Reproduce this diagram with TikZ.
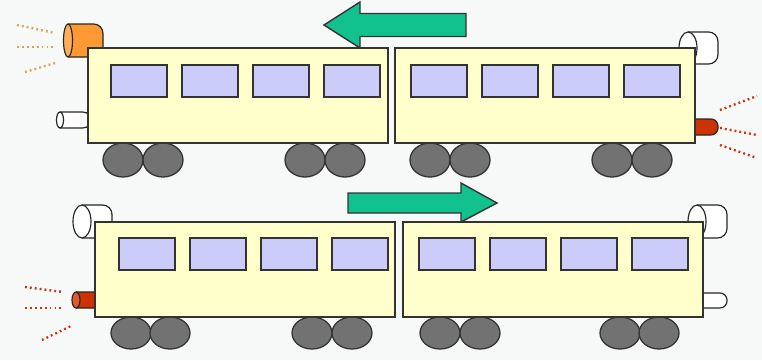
\documentclass[tikz,border=0pt]{standalone}
\usepackage{tikz}
\definecolor{bgx}{HTML}{F7F9F8}
\definecolor{cry}{HTML}{FFFFCC}
\definecolor{lvx}{HTML}{CCCCFA}
\definecolor{olx}{HTML}{333333}
\definecolor{whx}{HTML}{727272}
\definecolor{orx}{HTML}{FF9933}
\definecolor{orz}{HTML}{FFAE5C}
\definecolor{rdx}{HTML}{CC3300}
\definecolor{rdz}{HTML}{E2582E}
\definecolor{gdx}{HTML}{DBA551}
\definecolor{gnx}{HTML}{12C28E}
\tikzset{
    coach/.style={olx,fill=cry,line width=1.4pt},
    pane/.style={olx,fill=lvx,line width=1.2pt},
    wheel/.style={black!80,fill=whx,line width=1.1pt},
    drum/.style={black!85,line width=1pt,rounded corners=8pt},
    rim/.style={black!85,line width=1pt},
    beam/.style={line width=2pt,dash pattern=on 1.6pt off 2.6pt},
    arr/.style={olx,fill=gnx,line width=1.2pt,line join=miter}
}

\begin{document}
\begin{tikzpicture}[x=0.03cm,y=-0.03cm]
    \fill[bgx] (0,0) rectangle (762,360);
    \useasboundingbox (0,0) rectangle (762,360);

    % direction arrows
    \draw[arr] (324,25) -- (360,2) -- (360,13.5) -- (466,13.5)
        -- (466,36.5) -- (360,36.5) -- (360,48) -- cycle;
    \draw[arr] (497,203) -- (461,183) -- (461,193) -- (348,193)
        -- (348,213) -- (461,213) -- (461,222) -- cycle;

    % upper train: lamp, chimney, buffer
    \draw[drum,fill=orx] (68,24) -- (103,24) -- (103,57) -- (68,57);
    \draw[rim,fill=orz] (68,40.5) ellipse (4.5 and 16.5);
    \draw[drum,fill=white] (60,112) -- (92,112) -- (92,128) -- (60,128);
    \draw[rim,fill=white] (60,120) ellipse (3.5 and 8);
    \draw[drum,fill=white] (688,32) -- (718,32) -- (718,64) -- (688,64);
    \draw[rim,fill=white] (688,48) ellipse (9 and 16);
    \draw[drum,fill=rdx,rounded corners=6pt] (690,119) -- (718,119) -- (718,135) -- (690,135);
    \draw[beam,gdx] (17,25) -- (55,33);
    \draw[beam,gdx] (17,47) -- (55,47);
    \draw[beam,gdx] (25,72) -- (55,63);
    \draw[beam,rdx] (720,110) -- (757,96);
    \draw[beam,rdx] (720,128) -- (757,135);
    \draw[beam,rdx] (720,145) -- (757,158);

    % lower train: lamp, chimneys, buffer
    \draw[drum,fill=white] (82,205) -- (112,205) -- (112,238) -- (82,238);
    \draw[rim,fill=white] (82,221.5) ellipse (9 and 16.5);
    \draw[drum,fill=rdx,rounded corners=2pt] (76,292) -- (100,292) -- (100,308) -- (76,308);
    \draw[rim,fill=rdz] (76,300) ellipse (4 and 8);
    \draw[drum,fill=white] (697,205) -- (727,205) -- (727,238) -- (697,238);
    \draw[rim,fill=white] (697,221.5) ellipse (9 and 16.5);
    \draw[drum,fill=white,rounded corners=6pt] (698,293) -- (727,293) -- (727,308) -- (698,308);
    \draw[beam,rdx] (25,287) -- (63,292);
    \draw[beam,rdx] (25,308) -- (63,308);
    \draw[beam,rdx] (42,340) -- (73,325);

    % wheels
    \foreach \x in {123,163,305,345,430,470,612,652} {
        \draw[wheel] (\x,160) ellipse (20 and 17);
    }
    \foreach \x in {131,170,312,352,440,480,620,659} {
        \draw[wheel] (\x,333) ellipse (20 and 16);
    }

    % coaches and windows
    \foreach \c/\o in {88/23,395/16} {
        \draw[coach] (\c,48) rectangle +(300,95);
        \foreach \k in {0,...,3} {
            \draw[pane] ({\c+\o+71*\k},65) rectangle +(56,32);
        }
    }
    \foreach \c/\o in {95/24,403/16} {
        \draw[coach] (\c,222) rectangle +(300,95);
        \foreach \k in {0,...,3} {
            \draw[pane] ({\c+\o+71*\k},238) rectangle +(56,32);
        }
    }
\end{tikzpicture}
\end{document}
